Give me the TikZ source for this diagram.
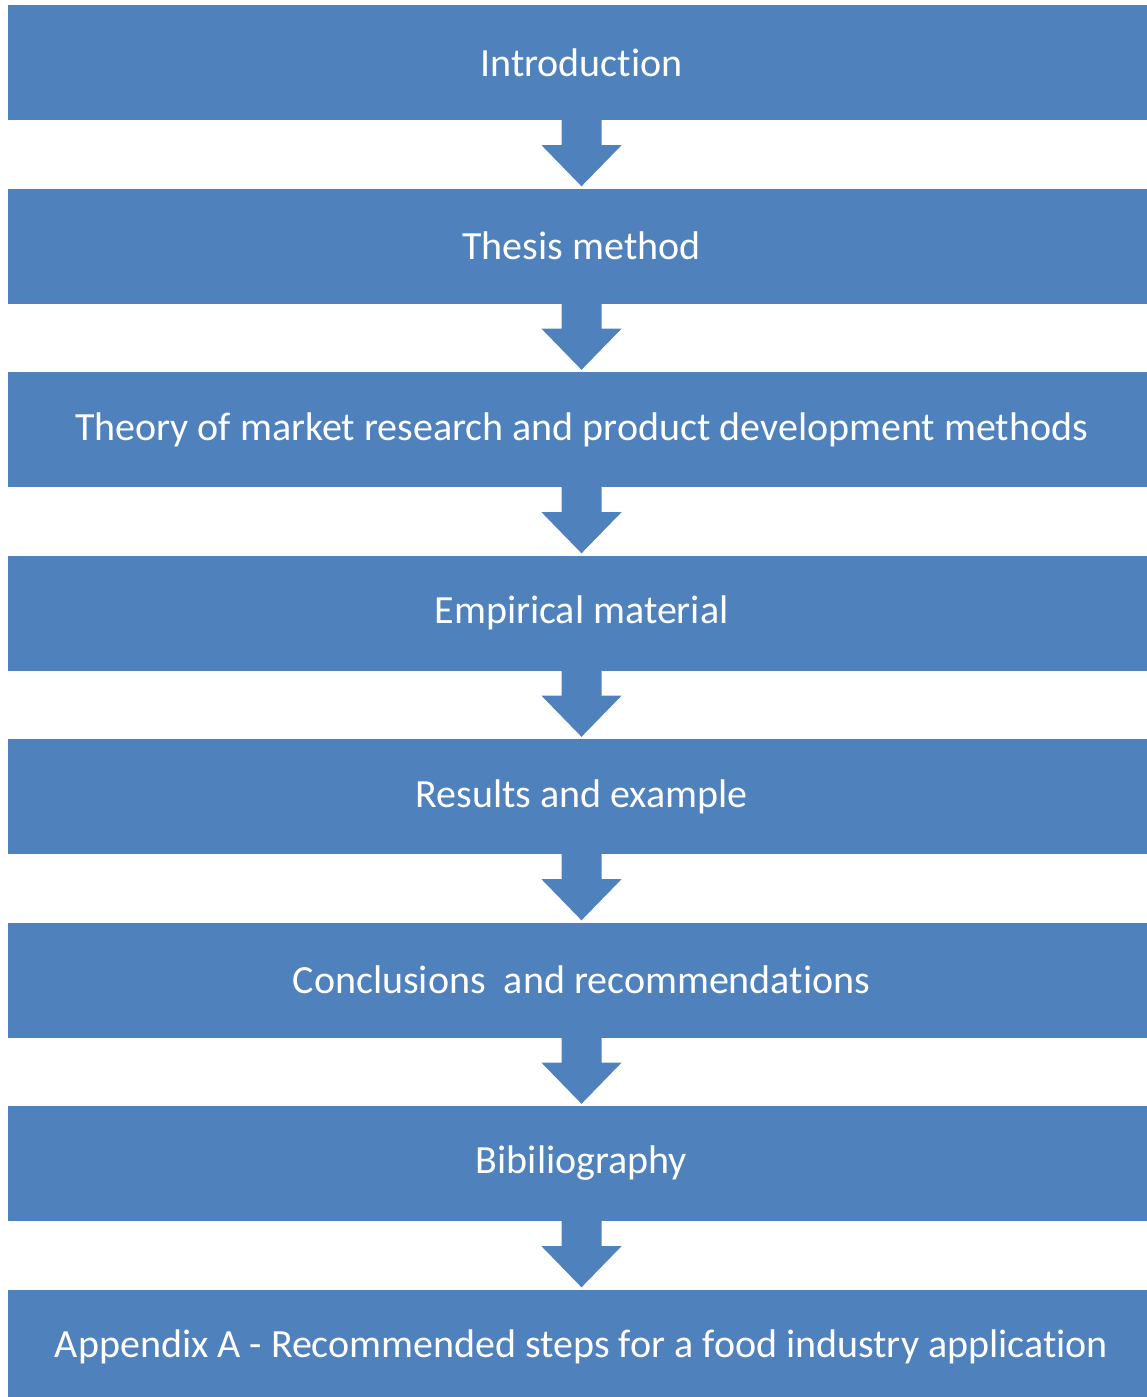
\documentclass[tikz,border=0pt]{standalone}
\usepackage{fontspec}
\usetikzlibrary{calc}
\newfontfamily\stagefont[Ligatures={NoCommon}]{Carlito}
\definecolor{boxblue}{HTML}{4F81BD}
\tikzset{
  stage/.style={rectangle, fill=boxblue, inner sep=0pt,
    minimum width=1147pt, minimum height=115pt, text=white,
    font=\stagefont\fontsize{40}{48}\selectfont},
  flow/.style={fill=boxblue}
}
\begin{document}
\begin{tikzpicture}[x=1pt,y=-1pt]
  \useasboundingbox (0,0) rectangle (1147,1397);
  \clip (0,0) rectangle (1147,1397);
  % stacked chapter boxes
  \node[stage] (s1) at (581.5,62.5)  {Introduction};
  \node[stage] (s2) at (581.5,246)   {Thesis method};
  \node[stage] (s3) at (581.5,429.5) {Theory of market research and product development methods};
  \node[stage] (s4) at (581.5,613)   {Empirical material};
  \node[stage] (s5) at (581.5,796.5) {Results and example};
  \node[stage] (s6) at (581.5,980)   {Conclusions\ \ and recommendations};
  \node[stage] (s7) at (581.5,1163.5){Bibiliography};
  \node[stage] (s8) at (581.5,1347)  {Appendix A - Recommended steps for a food industry application};
  % block arrows between consecutive boxes
  \foreach \a/\b in {s1/s2,s2/s3,s3/s4,s4/s5,s5/s6,s6/s7,s7/s8}{
    \fill[flow] ($(\a.south)+(-20,-2)$) -- ($(\a.south)+(-20,25)$)
      -- ($(\a.south)+(-40,25)$) -- ($(\b.north)+(0,-2)$)
      -- ($(\a.south)+(40,25)$) -- ($(\a.south)+(20,25)$)
      -- ($(\a.south)+(20,-2)$) -- cycle;
  }
\end{tikzpicture}
\end{document}
